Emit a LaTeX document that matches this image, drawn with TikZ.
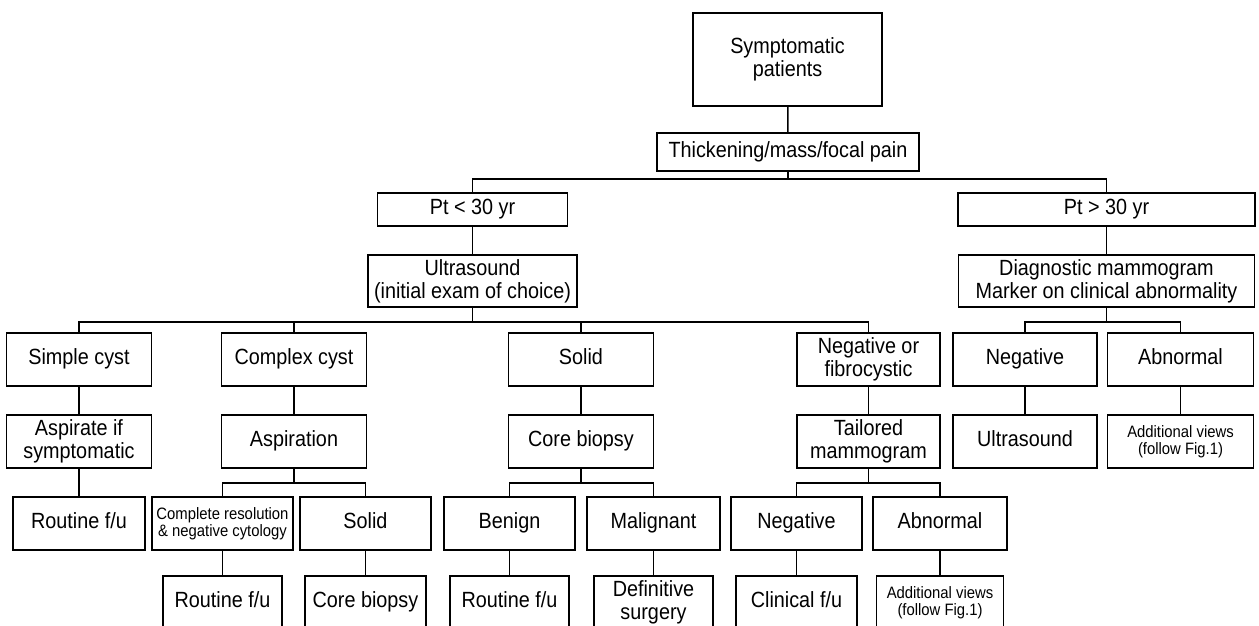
\documentclass[tikz,border=0pt]{standalone}
\usepackage{fontspec}
\setmainfont[FakeStretch=0.9]{Liberation Sans}

\tikzset{
  box/.style={draw, line width=1.5pt, inner sep=0pt, align=center,
    minimum width=145pt, minimum height=53pt,
    font=\fontsize{22}{23}\selectfont},
  small/.style={font=\fontsize{16.5}{17}\selectfont},
  link/.style={line width=1.5pt}
}

\begin{document}
\begin{tikzpicture}[x=1pt, y=-1pt]
    \clip (0,0) rectangle (1259,625);

    % top of the tree
    \node[box, minimum width=189pt, minimum height=93pt] (sym) at (787.5,59.5) {Symptomatic\\patients};
    \node[box, minimum width=262pt, minimum height=38pt] (thick) at (788,152) {Thickening/mass/focal pain};
    \node[box, minimum width=190pt, minimum height=33pt] (young) at (472.5,209.5) {Pt < 30 yr};
    \node[box, minimum width=297pt, minimum height=33pt] (old) at (1106.5,209.5) {Pt > 30 yr};
    \node[box, minimum width=209pt, minimum height=52pt] (us) at (472.5,281) {Ultrasound\\(initial exam of choice)};
    \node[box, minimum width=296pt, minimum height=52pt] (diag) at (1106.5,281) {Diagnostic mammogram\\Marker on clinical abnormality};

    % first row of findings
    \node[box] (simple) at (79,359.5) {Simple cyst\strut};
    \node[box] (complex) at (294,359.5) {Complex cyst\strut};
    \node[box] (solid) at (581,359.5) {Solid\strut};
    \node[box, minimum width=143pt] (negfib) at (868.5,359.5) {Negative or\\fibrocystic};
    \node[box, minimum width=144pt] (neg) at (1025,359.5) {Negative\strut};
    \node[box, minimum width=146pt] (abn) at (1180.5,359.5) {Abnormal\strut};

    % second row
    \node[box] (asp) at (79,441.5) {Aspirate if\\symptomatic};
    \node[box] (aspiration) at (294,441.5) {Aspiration\strut};
    \node[box] (core) at (581,441.5) {Core biopsy\strut};
    \node[box, minimum width=143pt] (tailor) at (868.5,441.5) {Tailored\\mammogram};
    \node[box, minimum width=144pt] (usneg) at (1025,441.5) {Ultrasound\strut};
    \node[box, small, minimum width=146pt] (views) at (1180.5,441.5) {Additional views\\(follow Fig.1)};

    % third row
    \node[box, minimum width=132pt] (fuA) at (79,523.5) {Routine f/u\strut};
    \node[box, small, minimum width=141pt] (resol) at (222.5,523.5) {Complete resolution\\\& negative cytology};
    \node[box, minimum width=131pt] (solidB) at (365.5,523.5) {Solid\strut};
    \node[box, minimum width=131pt] (benign) at (509.5,523.5) {Benign\strut};
    \node[box, minimum width=133pt] (malig) at (653.5,523.5) {Malignant\strut};
    \node[box, minimum width=131pt] (negB) at (796.5,523.5) {Negative\strut};
    \node[box, minimum width=134pt] (abnB) at (940,523.5) {Abnormal\strut};

    % last row (cut at the bottom)
    \node[box, minimum width=119pt] (fuB) at (222.5,602.5) {Routine f/u\strut};
    \node[box, minimum width=121pt] (coreB) at (365.5,602.5) {Core biopsy\strut};
    \node[box, minimum width=119pt] (fuC) at (509.5,602.5) {Routine f/u\strut};
    \node[box, minimum width=119pt] (surg) at (653.5,602.5) {Definitive\\surgery};
    \node[box, minimum width=121pt] (clin) at (796.5,602.5) {Clinical f/u\strut};
    \node[box, small, minimum width=127pt] (viewsB) at (940,602.5) {Additional views\\(follow Fig.1)};

    % bar points
    \coordinate (barA) at (788,179);
    \coordinate (barB) at (472.5,322);
    \coordinate (barC) at (1106.5,322);
    \coordinate (barD) at (294,483);
    \coordinate (barE) at (581,483);
    \coordinate (barF) at (868.5,483);

    % connectors
    \draw[link] (sym) -- (thick);
    \draw[link] (thick) -- (barA);
    \draw[link] (young.north) |- (barA) -| (old.north);
    \draw[link] (young) -- (us);
    \draw[link] (old) -- (diag);

    \draw[link] (us) -- (barB);
    \draw[link] (simple.north) |- (barB) -| (negfib.north);
    \draw[link] (complex.north) -- (complex.north |- barB);
    \draw[link] (solid.north) -- (solid.north |- barB);
    \draw[link] (diag) -- (barC);
    \draw[link] (neg.north) |- (barC) -| (abn.north);

    \draw[link] (simple) -- (asp);
    \draw[link] (complex) -- (aspiration);
    \draw[link] (solid) -- (core);
    \draw[link] (negfib) -- (tailor);
    \draw[link] (neg) -- (usneg);
    \draw[link] (abn) -- (views);

    \draw[link] (asp) -- (fuA);
    \draw[link] (aspiration) -- (barD);
    \draw[link] (resol.north) |- (barD) -| (solidB.north);
    \draw[link] (core) -- (barE);
    \draw[link] (benign.north) |- (barE) -| (malig.north);
    \draw[link] (tailor) -- (barF);
    \draw[link] (negB.north) |- (barF) -| (abnB.north);

    \draw[link] (resol) -- (fuB);
    \draw[link] (solidB) -- (coreB);
    \draw[link] (benign) -- (fuC);
    \draw[link] (malig) -- (surg);
    \draw[link] (negB) -- (clin);
    \draw[link] (abnB) -- (viewsB);
\end{tikzpicture}
\end{document}
